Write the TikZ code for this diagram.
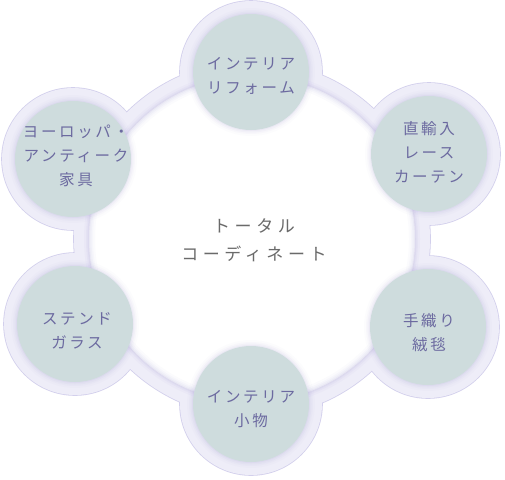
\documentclass[tikz,border=0pt]{standalone}
\usepackage{fontspec}
\newfontfamily\jp{Noto Sans CJK JP}[LetterSpace=17]
\newfontfamily\jpc{Noto Sans CJK JP}[LetterSpace=27]
\definecolor{bandfill}{HTML}{EEEDF8}
\definecolor{bandline}{HTML}{D2CFEC}
\definecolor{satfill}{HTML}{CEDCDD}
\definecolor{sattext}{HTML}{6C6AA0}
\definecolor{ctrtext}{HTML}{6A6A6A}
\definecolor{shadecol}{HTML}{8F86CC}
\begin{document}
\begin{tikzpicture}[x=1pt,y=-1pt,
  sattxt/.style={font={\jp\fontsize{15.5}{24}\selectfont}, text=sattext, align=center, inner sep=0pt},
  ctrtxt/.style={font={\jpc\fontsize{17}{28}\selectfont}, text=ctrtext, align=center, inner sep=0pt}]
\useasboundingbox (0,0) rectangle (505,479);
\fill[white] (0,0) rectangle (505,479);
\coordinate (C) at (252,239);
\coordinate (s1) at (251,72);
\coordinate (s2) at (429,154);
\coordinate (s3) at (428,327);
\coordinate (s4) at (251,404);
\coordinate (s5) at (75,324);
\coordinate (s6) at (73,159);
% band outline
\draw[bandline, line width=1.6] (C) circle (178);
\foreach \i in {1,...,6} \draw[bandline, line width=1.6] (s\i) circle (71);
% band fill
\fill[bandfill] (C) circle (178);
\foreach \i in {1,...,6} \fill[bandfill] (s\i) circle (71);
% shadow on band toward centre circle
\begin{scope}
  \clip (C) circle (172);
  \foreach \w/\o in {10/0.04, 6/0.06, 3/0.08} \draw[shadecol, opacity=\o, line width=\w] (C) circle (163);
\end{scope}
% centre white circle
\fill[white] (C) circle (163);
\begin{scope}
  \clip (C) circle (163);
  \foreach \w/\o in {12/0.03, 8/0.04, 5/0.05, 2/0.07} \draw[shadecol, opacity=\o, line width=\w] (C) circle (163);
\end{scope}
% satellite shadows and discs
\foreach \i in {1,...,6} {
  \foreach \r/\o in {64/0.025, 62/0.035, 60.5/0.05, 59/0.07}
    \fill[shadecol, opacity=\o, shift={(0,4)}] (s\i) circle (\r);
  \fill[satfill] (s\i) circle (58);
}
% texts
\node[sattxt] (t1) at (251,76) {インテリア\\リフォーム};
\node[sattxt] (t2) at (429,152) {直輸入\\レース\\カーテン};
\node[sattxt] (t3) at (429,333) {手織り\\絨毯};
\node[sattxt] (t4) at (251,409) {インテリア\\小物};
\node[sattxt] (t5) at (77,331) {ステンド\\ガラス};
\node[sattxt] (t6) at (76,156) {ヨーロッパ・\\アンティーク\\家具};
\node[ctrtxt] (ct) at (254,240) {トータル\\コーディネート};
\end{tikzpicture}
\end{document}
